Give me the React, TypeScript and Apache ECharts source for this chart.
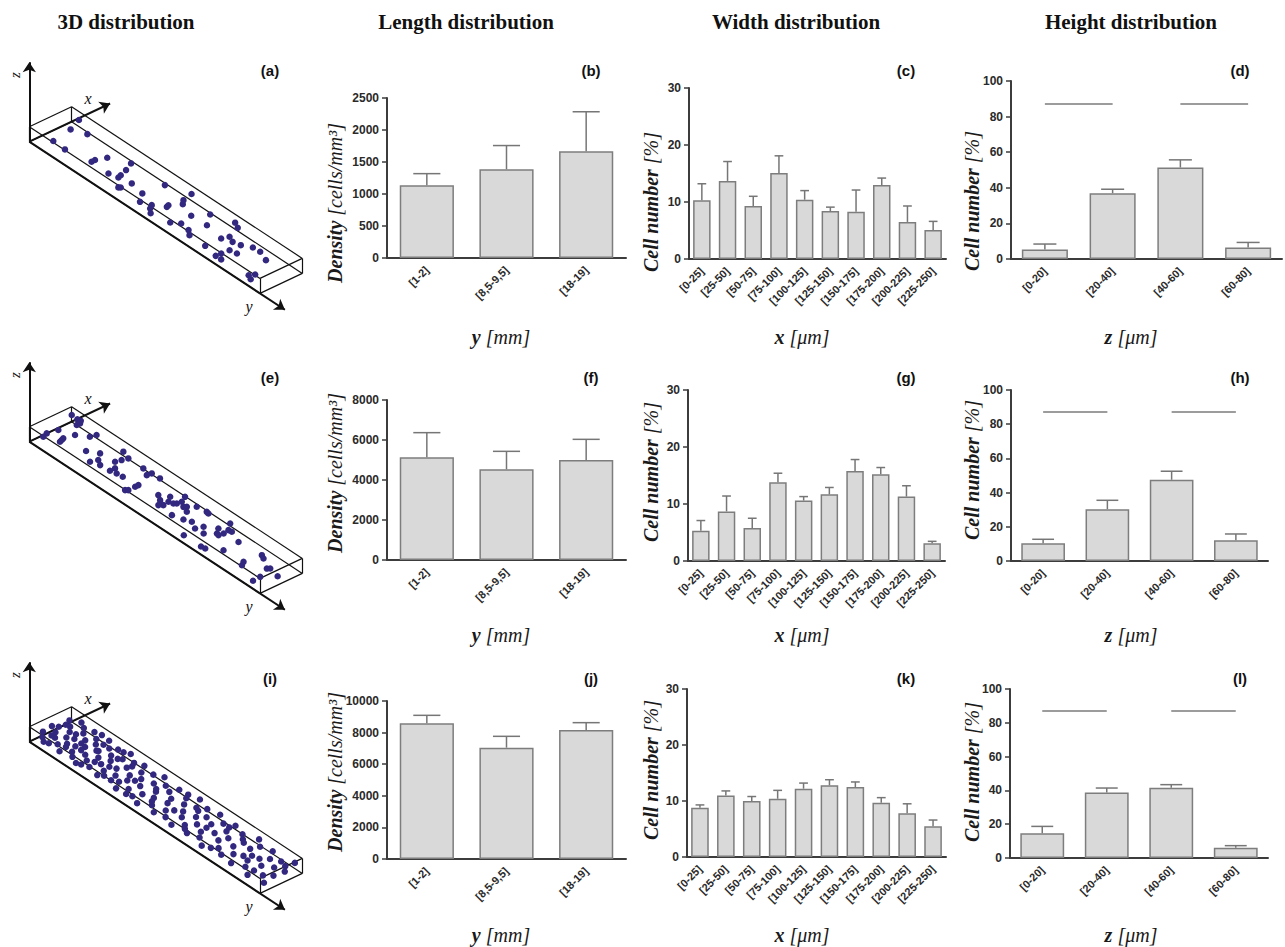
import React, { useEffect, useRef } from "react";
import * as echarts from "echarts";

// ---------------- data ----------------
const lengthCats = ["[1-2]", "[8,5-9,5]", "[18-19]"];
const widthCats = ["[0-25]", "[25-50]", "[50-75]", "[75-100]", "[100-125]", "[125-150]", "[150-175]", "[175-200]", "[200-225]", "[225-250]"];
const heightCats = ["[0-20]", "[20-40]", "[40-60]", "[60-80]"];

// Density [cells/mm3] : mean and top of error bar
const lengthB = [1135, 1386, 1668];
const lengthBErr = [1318, 1757, 2285];
const lengthF = [5133, 4533, 5000];
const lengthFErr = [6367, 5433, 6033];
const lengthJ = [8587, 7046, 8165];
const lengthJErr = [9093, 7764, 8629];

// Cell number [%] by width
const widthC = [10.3, 13.7, 9.3, 15.1, 10.4, 8.4, 8.3, 13.0, 6.5, 5.1];
const widthCErr = [13.2, 17.1, 11.0, 18.1, 12.0, 9.1, 12.1, 14.2, 9.3, 6.6];
const widthG = [5.3, 8.7, 5.8, 13.8, 10.6, 11.7, 15.8, 15.2, 11.3, 3.1];
const widthGErr = [7.1, 11.4, 7.5, 15.4, 11.3, 12.9, 17.8, 16.4, 13.2, 3.45];
const widthK = [8.8, 11.0, 10.0, 10.4, 12.2, 12.8, 12.5, 9.7, 7.8, 5.5];
const widthKErr = [9.3, 11.8, 10.8, 11.9, 13.2, 13.8, 13.4, 10.6, 9.5, 6.6];

// Cell number [%] by height
const heightD = [5.4, 37.0, 51.4, 6.5];
const heightDErr = [8.4, 39.2, 55.7, 9.3];
const heightH = [10.4, 30.3, 47.5, 12.1];
const heightHErr = [12.7, 35.5, 52.5, 15.8];
const heightL = [14.6, 38.7, 41.6, 6.1];
const heightLErr = [18.7, 41.4, 43.4, 7.3];

// significance bars in height panels
const sigLevel = 87;
const sigPairs = [[0, 1], [2, 3]];

// channel dimensions: length [mm], width [um], height [um]
const boxDims = [20, 250, 80];
const dotHeight = 40;

// cell positions [length mm, width um]
const dotsA = [
  [0.71, 245], [1.13, 167], [2.1, 200], [1.39, 47], [2.46, 43], [4.37, 70], [4.36, 91], [4.63, 145],
  [5.88, 67], [6.55, 80], [6.46, 100], [6.26, 145], [5.93, 197], [7.49, 95], [7.31, 28], [7.4, 36],
  [8.64, 79], [9.2, 27], [9.88, 50], [10.46, 4], [10.08, 27], [10.56, 93], [8.82, 200], [10.49, 107],
  [10.65, 185], [10.93, 162], [10.47, 245], [12.13, 130], [12.72, 202], [11.88, 23], [12.36, 55],
  [13.13, 46], [13.55, 23], [13.42, 135], [14.25, 245], [14.74, 227], [14.96, 114], [15.13, 152],
  [15.63, 136], [16.18, 147], [16.16, 82], [16.68, 90], [14.94, 21], [16.09, 5], [16.56, 5], [16.11, 36],
  [16.8, 176], [17.39, 179], [18.24, 155], [18.77, 17], [18.95, 43], [19.15, 3],
];
const dotsE = [
  [0.57, 64], [0.7, 35], [0.73, 122], [1.62, 81], [1.55, 95], [1.69, 66], [1.72, 153], [0.07, 246],
  [0.6, 243], [1.01, 231], [0.84, 247], [1.02, 211], [2.39, 195], [2.5, 227], [3.35, 107], [4.31, 65],
  [4.48, 102], [4.94, 82], [4.04, 143], [5.73, 86], [5.73, 116], [5.22, 151], [4.75, 232], [5.33, 182],
  [5.45, 214], [6.18, 95], [6.65, 99], [7.76, 37], [7.88, 48], [7.87, 89], [7.86, 109], [6.76, 213],
  [7.4, 190], [7.45, 216], [8.13, 218], [9.35, 125], [9.8, 105], [10.3, 90], [10.12, 73], [10.23, 125],
  [9.91, 157], [10.54, 133], [10.66, 145], [10.71, 171], [10.45, 208], [11.16, 150], [11.28, 162],
  [11.66, 136], [11.64, 196], [12.39, 204], [12.58, 201], [11.38, 67], [12.13, 84], [12.61, 101],
  [13.24, 77], [13.42, 115], [13.94, 80], [14.09, 157], [14.42, 126], [14.6, 123], [14.66, 149],
  [14.58, 183], [14.13, 224], [14.83, 186], [15.85, 156], [13.35, 3], [14.84, 3], [15.15, 7],
  [15.94, 61], [17.71, 167], [18.03, 155], [18.92, 114], [19.04, 126], [17.56, 69], [17.76, 46],
  [19.9, 111], [19.31, 48], [19.35, 3],
];
const dotsI = [
  [0.3, 60], [0.5, 140], [0.4, 210], [0.7, 30], [0.8, 100], [0.9, 180], [1.0, 240], [1.2, 70], [1.3, 150],
  [1.4, 20], [1.5, 220], [1.6, 110], [1.8, 45], [1.9, 190], [2.0, 130], [2.1, 80], [2.2, 235], [2.4, 15],
  [2.5, 160], [2.6, 95], [2.8, 205], [2.9, 55], [3.0, 125], [3.2, 175], [3.3, 30], [3.4, 240], [3.6, 85],
  [3.7, 145], [3.9, 10], [4.0, 200], [4.1, 60], [4.3, 115], [4.4, 225], [4.6, 170], [4.7, 35], [4.9, 90],
  [5.0, 140], [5.2, 245], [5.3, 190], [5.5, 65], [5.6, 20], [5.8, 120], [6.0, 210], [6.1, 160], [6.3, 80],
  [6.5, 40], [6.6, 230], [6.8, 130], [7.0, 185], [7.1, 95], [7.3, 15], [7.5, 150], [7.6, 215], [7.8, 55],
  [8.0, 110], [8.2, 240], [8.3, 170], [8.5, 30], [8.7, 75], [8.9, 200], [9.0, 135], [9.2, 10], [9.4, 95],
  [9.5, 180], [9.7, 225], [9.9, 50], [10.1, 150], [10.3, 115], [10.5, 20], [10.6, 205], [10.8, 70],
  [11.0, 165], [11.2, 245], [11.3, 35], [11.5, 125], [11.7, 190], [11.9, 90], [12.1, 15], [12.2, 220],
  [12.4, 140], [12.6, 60], [12.8, 175], [13.0, 105], [13.1, 235], [13.3, 25], [13.5, 155], [13.7, 80],
  [13.9, 200], [14.1, 45], [14.3, 120], [14.5, 230], [14.6, 170], [14.8, 10], [15.0, 95], [15.2, 140],
  [15.4, 210], [15.6, 55], [15.8, 185], [16.0, 115], [16.2, 30], [16.4, 240], [16.6, 75], [16.8, 160],
  [17.0, 205], [17.2, 20], [17.4, 130], [17.6, 90], [17.8, 225], [18.0, 50], [18.3, 175], [18.5, 110],
  [18.7, 15], [18.9, 200], [19.1, 145], [19.3, 65], [19.5, 240], [19.7, 100], [19.9, 30],
  [0.2, 120], [0.6, 175], [1.1, 10], [1.7, 160], [2.3, 60], [2.7, 245], [3.1, 95], [3.5, 200], [3.8, 150],
  [4.2, 20], [4.5, 80], [4.8, 230], [5.4, 105], [5.9, 40], [6.2, 185], [6.9, 60], [7.4, 120], [8.1, 20],
  [8.8, 150], [9.6, 70], [10.4, 230], [11.1, 100], [12.0, 180], [12.9, 40], [13.6, 120], [14.4, 200],
  [15.3, 30], [16.1, 170], [17.1, 100], [17.9, 140], [18.6, 60], [19.4, 190], [19.8, 160], [0.9, 70],
  [2.6, 130], [5.1, 175],
];

const columnTitles = ["3D distribution", "Length distribution", "Width distribution", "Height distribution"];
const panelLetters = [["(a)", "(b)", "(c)", "(d)"], ["(e)", "(f)", "(g)", "(h)"], ["(i)", "(j)", "(k)", "(l)"]];

// ---------------- layout / style ----------------
const SERIF = "'Liberation Serif', 'DejaVu Serif', serif";
const SANS = "'Liberation Sans', Arial, sans-serif";
const AXIS = "#3c3c3c";
const ROW_OFF = [0, 300, 600];

// oblique projection of the channel (grid-local px)
const ORIGIN = [29.3, 81.7];
const L_VEC = [230.7, 151.7];
const W_VEC = [42.3, -20];
const H_VEC = [0, -15];
const project = (l: number, w: number, h: number) => [
  ORIGIN[0] + (l / boxDims[0]) * L_VEC[0] + (w / boxDims[1]) * W_VEC[0] + (h / boxDims[2]) * H_VEC[0],
  ORIGIN[1] + (l / boxDims[0]) * L_VEC[1] + (w / boxDims[1]) * W_VEC[1] + (h / boxDims[2]) * H_VEC[1],
];

const barPanels = [
  { kind: "len", cats: lengthCats, vals: lengthB, errs: lengthBErr, max: 2500, step: 500, grid: { left: 387, top: 98, width: 239, height: 160 } },
  { kind: "wid", cats: widthCats, vals: widthC, errs: widthCErr, max: 30, step: 10, grid: { left: 689, top: 88, width: 257, height: 171 } },
  { kind: "hgt", cats: heightCats, vals: heightD, errs: heightDErr, max: 100, step: 20, grid: { left: 1011, top: 81, width: 271, height: 178 } },
  { kind: "len", cats: lengthCats, vals: lengthF, errs: lengthFErr, max: 8000, step: 2000, grid: { left: 387, top: 400, width: 239, height: 160 } },
  { kind: "wid", cats: widthCats, vals: widthG, errs: widthGErr, max: 30, step: 10, grid: { left: 688, top: 390, width: 257, height: 171 } },
  { kind: "hgt", cats: heightCats, vals: heightH, errs: heightHErr, max: 100, step: 20, grid: { left: 1011, top: 390, width: 257, height: 171 } },
  { kind: "len", cats: lengthCats, vals: lengthJ, errs: lengthJErr, max: 10000, step: 2000, grid: { left: 387, top: 701, width: 239, height: 158 } },
  { kind: "wid", cats: widthCats, vals: widthK, errs: widthKErr, max: 30, step: 10, grid: { left: 687, top: 689, width: 259, height: 168 } },
  { kind: "hgt", cats: heightCats, vals: heightL, errs: heightLErr, max: 100, step: 20, grid: { left: 1010, top: 689, width: 258, height: 169 } },
];

const yTitle: Record<string, { text: string; x: number; ys: number[] }> = {
  len: { text: "{b|Density} {i|[cells/mm³]}", x: 335, ys: [203, 473, 772] },
  wid: { text: "{b|Cell number} {i|[%]}", x: 651, ys: [202, 472, 770] },
  hgt: { text: "{b|Cell number} {i|[%]}", x: 972, ys: [201, 470, 772] },
};
const xTitle: Record<string, { text: string; x: number }> = {
  len: { text: "{b|y} {i|[mm]}", x: 501 },
  wid: { text: "{b|x} {i|[μm]}", x: 802 },
  hgt: { text: "{b|z} {i|[μm]}", x: 1131 },
};
const X_TITLE_Y = [337, 635, 935];
const COL_X = [126, 466, 796, 1131];
const LETTER_X = [270, 591, 906, 1240];
const LETTER_Y = [70, 377, 678];

const titleRich = {
  b: { font: "italic bold 20px 'Liberation Serif', serif", fill: "#1a1a1a" },
  i: { font: "italic 20px 'Liberation Serif', serif", fill: "#1a1a1a" },
};

function buildOption() {
  const grid: any[] = [];
  const xAxis: any[] = [];
  const yAxis: any[] = [];
  const series: any[] = [];
  const graphic: any[] = [];

  // ---- 3D panels ----
  [dotsA, dotsE, dotsI].forEach((dots, r) => {
    const gi = grid.length;
    grid.push({ left: 0, top: 60 + ROW_OFF[r], width: 320, height: 260 });
    xAxis.push({ gridIndex: gi, type: "value", min: 0, max: 320, show: false });
    yAxis.push({ gridIndex: gi, type: "value", min: 0, max: 260, inverse: true, show: false });
    const [BL, BW, BH] = boxDims;
    const edges: any[] = [];
    for (const w of [0, BW]) for (const h of [0, BH]) edges.push([project(0, w, h), project(BL, w, h)]);
    for (const l of [0, BL]) for (const h of [0, BH]) edges.push([project(l, 0, h), project(l, BW, h)]);
    for (const l of [0, BL]) for (const w of [0, BW]) edges.push([project(l, w, 0), project(l, w, BH)]);
    series.push({
      type: "lines", coordinateSystem: "cartesian2d", xAxisIndex: gi, yAxisIndex: gi, silent: true,
      symbol: "none", lineStyle: { color: "#111", width: 1.2, opacity: 1, curveness: 0 },
      data: edges.map((c) => ({ coords: c })),
    });
    const axesLines = [
      [project(0, 0, 0), project(0, 0, BH * 5.3)],
      [project(0, 0, 0), project(0, BW * 1.91, 0)],
      [project(0, 0, 0), project(BL * 1.108, 0, 0)],
    ];
    series.push({
      type: "lines", coordinateSystem: "cartesian2d", xAxisIndex: gi, yAxisIndex: gi, silent: true,
      symbol: ["none", "arrow"], symbolSize: 10, lineStyle: { color: "#111", width: 2, opacity: 1, curveness: 0 },
      data: axesLines.map((c) => ({ coords: c })),
    });
    series.push({
      type: "scatter", xAxisIndex: gi, yAxisIndex: gi, symbolSize: 6.5, silent: true,
      itemStyle: { color: "#33287f", opacity: 1 },
      data: dots.map(([l, w]) => project(l, w, dotHeight)),
    });
    const off = ROW_OFF[r];
    graphic.push({ type: "text", x: 15, y: 75 + off, rotation: Math.PI / 2, style: { text: "z", font: "italic 15px 'Liberation Serif', serif", fill: "#111", align: "center", verticalAlign: "middle" } });
    graphic.push({ type: "text", x: 88, y: 98 + off, style: { text: "x", font: "italic 16px 'Liberation Serif', serif", fill: "#111", align: "center", verticalAlign: "middle" } });
    graphic.push({ type: "text", x: 249, y: 306 + off, style: { text: "y", font: "italic 16px 'Liberation Serif', serif", fill: "#111", align: "center", verticalAlign: "middle" } });
  });

  // ---- bar panels ----
  barPanels.forEach((p, idx) => {
    const gi = grid.length;
    const row = Math.floor(idx / 3);
    grid.push({ ...p.grid });
    xAxis.push({
      gridIndex: gi, type: "category", data: p.cats, boundaryGap: true,
      axisLine: { lineStyle: { color: AXIS, width: 2 } },
      axisTick: { alignWithLabel: true, length: 5, lineStyle: { color: AXIS, width: 1.5 } },
      axisLabel: { interval: 0, rotate: 45, fontSize: 11, fontWeight: "bold", color: "#2a2a2a", fontFamily: SANS, margin: 10 },
      splitLine: { show: false },
    });
    yAxis.push({
      gridIndex: gi, type: "value", min: 0, max: p.max, interval: p.step,
      axisLine: { show: true, lineStyle: { color: AXIS, width: 2 } },
      axisTick: { show: true, length: 5, lineStyle: { color: AXIS, width: 1.5 } },
      axisLabel: { fontSize: 12, fontWeight: "bold", color: "#2a2a2a", fontFamily: SANS, margin: 8, formatter: (v: number) => String(v) },
      splitLine: { show: false },
    });
    const bar: any = {
      type: "bar", xAxisIndex: gi, yAxisIndex: gi, data: p.vals, barWidth: "68%", silent: true,
      itemStyle: { color: "#d9d9d9", borderColor: "#7d7d7d", borderWidth: 1.5 },
    };
    if (p.kind === "hgt") {
      bar.markLine = {
        silent: true, symbol: ["none", "none"], label: { show: false },
        lineStyle: { color: "#9c9c9c", width: 2, type: "solid" },
        emphasis: { disabled: true },
        data: sigPairs.map(([a, b]) => [{ coord: [p.cats[a], sigLevel] }, { coord: [p.cats[b], sigLevel] }]),
      };
    }
    series.push(bar);
    series.push({
      type: "custom", xAxisIndex: gi, yAxisIndex: gi, z: 3, silent: true,
      encode: { x: 0, y: [1, 2] },
      data: p.vals.map((v, i) => [i, v, p.errs[i]]),
      renderItem: (params: any, api: any) => {
        const i = api.value(0);
        const p0 = api.coord([i, api.value(1)]);
        const p1 = api.coord([i, api.value(2)]);
        const band = api.size([1, 0])[0];
        const cap = band * 0.68 * 0.5;
        const st = { stroke: "#767676", lineWidth: 1.5 };
        return {
          type: "group",
          children: [
            { type: "line", shape: { x1: p0[0], y1: p0[1], x2: p1[0], y2: p1[1] }, style: st },
            { type: "line", shape: { x1: p1[0] - cap / 2, y1: p1[1], x2: p1[0] + cap / 2, y2: p1[1] }, style: st },
          ],
        };
      },
    });
    const yt = yTitle[p.kind];
    graphic.push({ type: "text", x: yt.x, y: yt.ys[row], rotation: Math.PI / 2, style: { text: yt.text, rich: titleRich, font: "italic 20px 'Liberation Serif', serif", fill: "#1a1a1a", align: "center", verticalAlign: "middle" } });
    const xt = xTitle[p.kind];
    graphic.push({ type: "text", x: xt.x, y: X_TITLE_Y[row], style: { text: xt.text, rich: titleRich, font: "italic 20px 'Liberation Serif', serif", fill: "#1a1a1a", align: "center", verticalAlign: "middle" } });
  });

  // ---- titles and panel letters ----
  columnTitles.forEach((t, i) => {
    graphic.push({ type: "text", x: COL_X[i], y: 22, style: { text: t, font: "bold 21px 'Liberation Serif', serif", fill: "#111", align: "center", verticalAlign: "middle" } });
  });
  panelLetters.forEach((row, r) => row.forEach((t, c) => {
    graphic.push({ type: "text", x: LETTER_X[c], y: LETTER_Y[r], style: { text: t, font: "bold 15px 'Liberation Sans', Arial, sans-serif", fill: "#111", align: "center", verticalAlign: "middle" } });
  }));

  return { animation: false, backgroundColor: "#ffffff", grid, xAxis, yAxis, series, graphic };
}

export default function App() {
  const ref = useRef<HTMLDivElement>(null);
  useEffect(() => {
    if (!ref.current) return;
    const chart = echarts.init(ref.current, undefined, { renderer: "svg" });
    chart.setOption(buildOption() as any);
    return () => chart.dispose();
  }, []);
  return <div ref={ref} style={{ position: "absolute", left: 0, top: 0, width: 1285, height: 947, background: "#fff" }} />;
}
